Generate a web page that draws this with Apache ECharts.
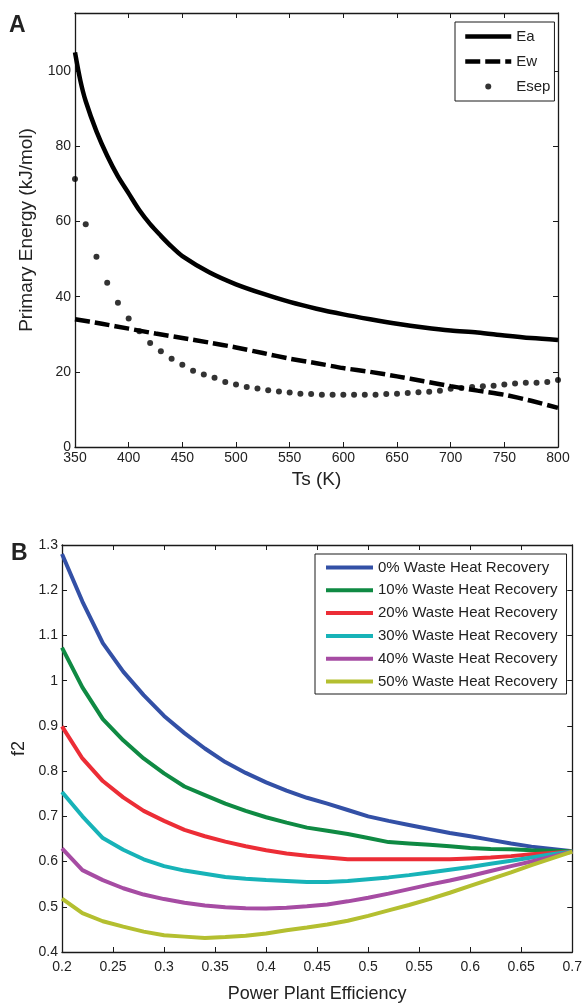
<!DOCTYPE html>
<html><head><meta charset="utf-8">
<script src="https://cdn.jsdelivr.net/npm/echarts@6/dist/echarts.min.js"></script>
<style>html,body{margin:0;padding:0;background:#fff}#c{width:585px;height:1004px}</style>
</head><body><div id="c"></div>
<script>
// ---------- Panel A data ----------
const tsEa = [350,355,360,370,380,390,400,410,420,430,440,450,475,500,525,550,575,600,625,650,675,700,725,750,775,800];
const ea   = [105,97.5,92,84,77.5,72,67.5,63,59.3,56.2,53.3,50.8,46.5,43.3,40.8,38.6,36.8,35.3,34,32.8,31.8,31,30.5,29.7,29,28.5];
const tsEw = [350,375,400,425,450,475,500,525,550,575,600,625,650,675,700,725,750,775,800];
const ew   = [34,32.8,31.5,30.2,29,27.8,26.5,25,23.5,22.3,21,20,18.8,17.5,16.2,15,13.9,12.3,10.4];
const tsEsep = [350,360,370,380,390,400,410,420,430,440,450,460,470,480,490,500,510,520,530,540,550,560,570,580,590,600,610,620,630,640,650,660,670,680,690,700,710,720,730,740,750,760,770,780,790,800];
const esep = [71.3,59.3,50.6,43.7,38.4,34.2,30.8,27.7,25.5,23.5,21.9,20.3,19.3,18.4,17.3,16.6,16.0,15.6,15.1,14.8,14.5,14.2,14.1,13.9,13.9,13.9,13.9,13.9,13.9,14.1,14.2,14.4,14.6,14.7,15.0,15.5,15.7,16.0,16.2,16.3,16.6,16.9,17.1,17.1,17.3,17.8];
const namesA = ['Ea','Ew','Esep'];

// ---------- Panel B data ----------
const eff = [0.20,0.22,0.24,0.26,0.28,0.30,0.32,0.34,0.36,0.38,0.40,0.42,0.44,0.46,0.48,0.50,0.52,0.54,0.56,0.58,0.60,0.62,0.64,0.66,0.68,0.70];
const rec0  = [1.280,1.175,1.083,1.020,0.968,0.922,0.884,0.850,0.820,0.796,0.775,0.757,0.741,0.728,0.714,0.700,0.690,0.681,0.672,0.663,0.656,0.648,0.640,0.633,0.628,0.623];
const rec10 = [1.073,0.985,0.915,0.868,0.828,0.795,0.766,0.747,0.728,0.712,0.698,0.686,0.675,0.668,0.661,0.652,0.643,0.640,0.637,0.634,0.630,0.628,0.627,0.625,0.624,0.623];
const rec20 = [0.899,0.828,0.778,0.742,0.712,0.690,0.670,0.656,0.644,0.634,0.625,0.618,0.613,0.609,0.605,0.605,0.605,0.605,0.605,0.605,0.607,0.609,0.612,0.616,0.619,0.622];
const rec30 = [0.754,0.700,0.652,0.626,0.605,0.590,0.580,0.573,0.566,0.562,0.559,0.557,0.555,0.555,0.557,0.561,0.565,0.570,0.576,0.582,0.588,0.595,0.602,0.609,0.616,0.622];
const rec40 = [0.629,0.581,0.559,0.541,0.527,0.517,0.509,0.503,0.499,0.497,0.496,0.498,0.501,0.505,0.512,0.520,0.529,0.539,0.549,0.558,0.568,0.579,0.590,0.600,0.611,0.622];
const rec50 = [0.518,0.486,0.468,0.456,0.445,0.437,0.434,0.431,0.433,0.436,0.441,0.448,0.454,0.461,0.469,0.480,0.492,0.504,0.517,0.531,0.546,0.561,0.576,0.592,0.607,0.622];
const namesB = ['0% Waste Heat Recovery','10% Waste Heat Recovery','20% Waste Heat Recovery','30% Waste Heat Recovery','40% Waste Heat Recovery','50% Waste Heat Recovery'];
const colorsB = ['#3350a6','#0f8a43','#ec2d36','#17b3b8','#a64ca3','#b4bf30'];
const seriesB = [rec0,rec10,rec20,rec30,rec40,rec50];

const FF = 'Liberation Sans, Arial, Helvetica, sans-serif';
const AX = '#1a1a1a';
const zip = (xs, ys) => xs.map((x, i) => [x, ys[i]]);
const HIDE = {opacity: 0, color: 'rgba(0,0,0,0)', borderWidth: 0};

function mainAxis(o) {
  return Object.assign({
    type: 'value',
    axisLine: {show: true, onZero: false, lineStyle: {color: AX, width: 1.3}},
    axisTick: {show: true, inside: true, length: 5, lineStyle: {color: AX, width: 1}},
    splitLine: {show: false},
    nameLocation: 'middle'
  }, o);
}
function mirrorAxis(o) {
  return Object.assign({
    type: 'value',
    axisLine: {show: true, onZero: false, lineStyle: {color: AX, width: 1.3}},
    axisTick: {show: true, inside: true, length: 5, lineStyle: {color: AX, width: 1}},
    axisLabel: {show: false},
    splitLine: {show: false}
  }, o);
}

const chart = echarts.init(document.getElementById('c'), null, {renderer: 'canvas'});
const option = {
  animation: false,
  backgroundColor: '#fff',
  textStyle: {fontFamily: FF},
  graphic: [
    {type: 'text', left: 9, top: 14, style: {text: 'A', font: 'bold 23px ' + FF, fill: '#222'}},
    {type: 'text', left: 11, top: 542, style: {text: 'B', font: 'bold 23px ' + FF, fill: '#222'}}
  ],
  grid: [
    {left: 75, top: 13, width: 483, height: 434},
    {left: 62, top: 545, width: 511, height: 414}
  ],
  xAxis: [
    mainAxis({gridIndex: 0, position: 'bottom', min: 350, max: 800, interval: 50,
      axisLabel: {color: '#222', fontSize: 14, fontFamily: FF, margin: 4},
      name: 'Ts (K)', nameGap: 23, nameTextStyle: {fontSize: 19, color: '#222', fontFamily: FF}}),
    mirrorAxis({gridIndex: 0, position: 'top', min: 350, max: 800, interval: 50}),
    mainAxis({gridIndex: 1, position: 'bottom', min: 0.2, max: 0.7, interval: 0.05,
      axisLabel: {color: '#222', fontSize: 14, fontFamily: FF, margin: 8},
      name: 'Power Plant Efficiency', nameGap: 33, nameTextStyle: {fontSize: 18, color: '#222', fontFamily: FF}}),
    mirrorAxis({gridIndex: 1, position: 'top', min: 0.2, max: 0.7, interval: 0.05})
  ],
  yAxis: [
    mainAxis({gridIndex: 0, position: 'left', min: 0, max: 115.5, interval: 20,
      axisLabel: {color: '#222', fontSize: 14, fontFamily: FF, margin: 4, showMaxLabel: false},
      name: 'Primary Energy (kJ/mol)', nameGap: 32, nameTextStyle: {fontSize: 19, color: '#222', fontFamily: FF}}),
    mirrorAxis({gridIndex: 0, position: 'right', min: 0, max: 115.5, interval: 20}),
    mainAxis({gridIndex: 1, position: 'left', min: 0.4, max: 1.3, interval: 0.1,
      axisLabel: {color: '#222', fontSize: 14, fontFamily: FF, margin: 4},
      name: 'f2', nameGap: 31, nameTextStyle: {fontSize: 18, color: '#222', fontFamily: FF}}),
    mirrorAxis({gridIndex: 1, position: 'right', min: 0.4, max: 1.3, interval: 0.1})
  ],
  legend: [
    {data: [
        {name: namesA[0], itemStyle: HIDE},
        {name: namesA[1], itemStyle: HIDE},
        {name: namesA[2]}
      ],
      orient: 'vertical', left: 455, top: 22, itemWidth: 46, itemHeight: 6, itemGap: 10,
      padding: [7, 4, 7, 8], borderColor: AX, borderWidth: 1, backgroundColor: '#fff',
      lineStyle: {width: 4.5},
      textStyle: {fontSize: 15, color: '#222', fontFamily: FF, lineHeight: 15}},
    {data: namesB.map(n => ({name: n, itemStyle: HIDE})),
      orient: 'vertical', left: 315, top: 554, itemWidth: 47, itemHeight: 14, itemGap: 7.8,
      padding: [6, 9, 5, 9], borderColor: AX, borderWidth: 1, backgroundColor: '#fff',
      lineStyle: {width: 4},
      textStyle: {fontSize: 15, color: '#222', fontFamily: FF, lineHeight: 15}}
  ],
  series: [
    {name: namesA[0], type: 'line', xAxisIndex: 0, yAxisIndex: 0, data: zip(tsEa, ea), symbol: 'none', smooth: 0.3,
      lineStyle: {color: '#000', width: 4.5}, itemStyle: {color: '#000'}},
    {name: namesA[1], type: 'line', xAxisIndex: 0, yAxisIndex: 0, data: zip(tsEw, ew), symbol: 'none', smooth: 0.2,
      lineStyle: {color: '#000', width: 4.5, type: [15, 5]}, itemStyle: {color: '#000'}},
    {name: namesA[2], type: 'scatter', xAxisIndex: 0, yAxisIndex: 0, data: zip(tsEsep, esep), symbol: 'circle', symbolSize: 6,
      itemStyle: {color: '#000'}, clip: false}
  ].concat(seriesB.map((vals, i) => ({
    name: namesB[i], type: 'line', xAxisIndex: 2, yAxisIndex: 2, data: zip(eff, vals), symbol: 'none',
    lineStyle: {color: colorsB[i], width: 4}, itemStyle: {color: colorsB[i]}, z: 2 + i
  })))
};
chart.setOption(option);
</script>
</body></html>
